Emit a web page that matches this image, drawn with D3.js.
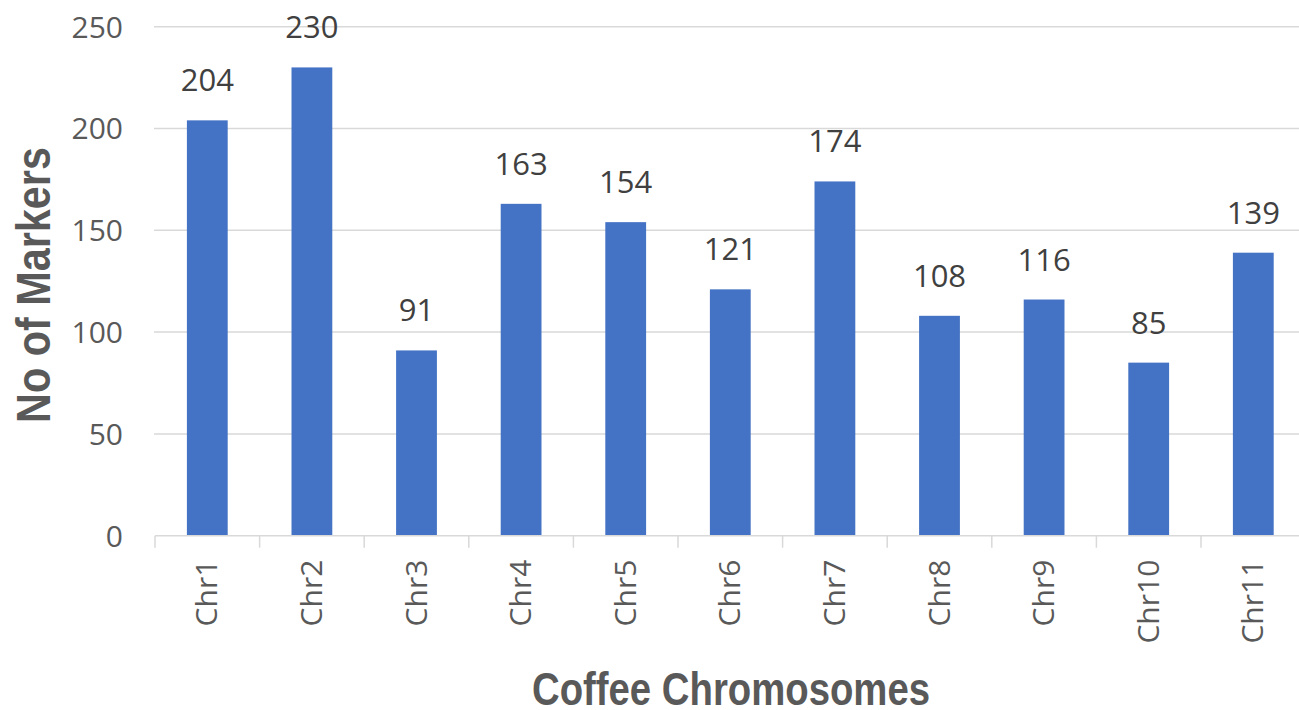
<!DOCTYPE html>
<html>
<head>
<meta charset="utf-8">
<script src="https://cdn.jsdelivr.net/npm/d3@7"></script>
<style>
  html, body { margin: 0; padding: 0; background: #fff; }
  svg { display: block; }
</style>
</head>
<body>
<script>
const categories = ["Chr1","Chr2","Chr3","Chr4","Chr5","Chr6","Chr7","Chr8","Chr9","Chr10","Chr11"];
const values = [204, 230, 91, 163, 154, 121, 174, 108, 116, 85, 139];
const yTicks = [0, 50, 100, 150, 200, 250];
const xTitle = "Coffee Chromosomes";
const yTitle = "No of Markers";

(function () {
const W = 1299, H = 710;
const svg = d3.select("body").append("svg").attr("width", W).attr("height", H);

const pLeft = 155, pRight = 1305.6, pTop = 26.7, pBottom = 535.7;
const x = d3.scaleBand().domain(categories).range([pLeft, pRight]).paddingInner(0.61).paddingOuter(0.305);
const y = d3.scaleLinear().domain([0, 250]).range([pBottom, pTop]);

const font = "'Open Sans', sans-serif";
const grey = "#595959";

// gridlines
svg.append("g").selectAll("line").data(yTicks.filter(d => d > 0)).join("line")
  .attr("x1", pLeft - 1).attr("x2", W)
  .attr("y1", d => y(d)).attr("y2", d => y(d))
  .attr("stroke", "#d9d9d9").attr("stroke-width", 1.5);

// y tick labels
svg.append("g").selectAll("text").data(yTicks).join("text")
  .attr("x", 123).attr("y", d => y(d)).attr("dy", "0.36em")
  .attr("text-anchor", "end")
  .attr("font-family", font).attr("font-size", 30).attr("fill", grey)
  .text(d => d);

// bars
svg.append("g").selectAll("rect").data(values).join("rect")
  .attr("x", (d, i) => x(categories[i]))
  .attr("width", x.bandwidth())
  .attr("y", d => y(d))
  .attr("height", d => y(0) - y(d))
  .attr("fill", "#4472C4");

// x axis line + ticks at band boundaries
svg.append("line").attr("x1", pLeft).attr("x2", W).attr("y1", pBottom).attr("y2", pBottom)
  .attr("stroke", "#d9d9d9").attr("stroke-width", 1.5);
const step = x.step();
const bounds = d3.range(categories.length + 1).map(i => pLeft + i * step);
svg.append("g").selectAll("line").data(bounds).join("line")
  .attr("x1", d => d).attr("x2", d => d)
  .attr("y1", pBottom).attr("y2", pBottom + 12)
  .attr("stroke", "#d9d9d9").attr("stroke-width", 1.5);

// x labels (rotated)
svg.append("g").selectAll("text").data(categories).join("text")
  .attr("transform", d => `translate(${x(d) + x.bandwidth() / 2 + 10},${pBottom + 24}) rotate(-90)`)
  .attr("text-anchor", "end")
  .attr("font-family", font).attr("font-size", 30).attr("fill", grey)
  .text(d => d);

// data labels
svg.append("g").selectAll("text").data(values).join("text")
  .attr("x", (d, i) => x(categories[i]) + x.bandwidth() / 2)
  .attr("y", d => y(d) - 29)
  .attr("text-anchor", "middle")
  .attr("font-family", font).attr("font-size", 31).attr("fill", "#404040")
  .text(d => d);

// axis titles
svg.append("text")
  .attr("x", 731).attr("y", 705)
  .attr("text-anchor", "middle")
  .attr("font-family", "'Liberation Sans', Arial, sans-serif").attr("font-weight", "bold")
  .attr("font-size", 46).attr("fill", grey)
  .attr("textLength", 398).attr("lengthAdjust", "spacingAndGlyphs")
  .text(xTitle);

svg.append("text")
  .attr("transform", "translate(50,285) rotate(-90)")
  .attr("text-anchor", "middle")
  .attr("font-family", "'Liberation Sans', Arial, sans-serif").attr("font-weight", "bold")
  .attr("font-size", 48).attr("fill", grey)
  .attr("textLength", 276).attr("lengthAdjust", "spacingAndGlyphs")
  .text(yTitle);
})();
</script>
</body>
</html>
